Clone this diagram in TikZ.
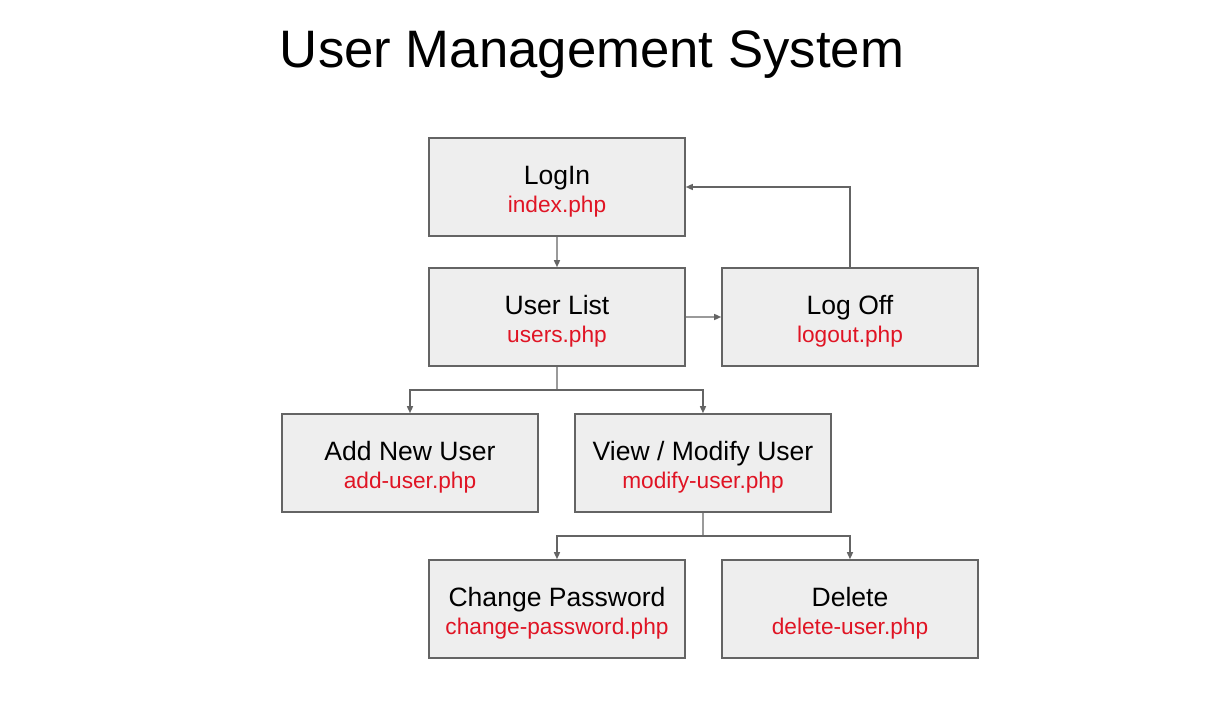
\documentclass[tikz,border=0pt]{standalone}
\usepackage{fontspec}
\setmainfont{Liberation Sans}
\usetikzlibrary{arrows.meta}
\definecolor{boxgray}{RGB}{238,238,238}
\definecolor{linegray}{RGB}{100,100,100}
\definecolor{pagered}{RGB}{224,20,36}
\newcommand{\phpfile}[1]{{\fontsize{12.9}{15.9}\selectfont\color{pagered}#1}}
\newcommand{\tallstrut}{\rule{0pt}{0.56cm}}

\begin{document}
\begin{tikzpicture}[scale=0.2]
\tikzstyle{page}=[draw=linegray, line width=0.9pt, fill=boxgray, minimum width=5.12cm, minimum height=1.96cm, align=center, inner sep=0pt, font=\fontsize{15.1}{15.9}\selectfont]
\tikzstyle{trunk}=[draw=linegray, line width=0.8pt]
\tikzstyle{link}=[trunk, -{Triangle[length=1.4mm,width=1.2mm]}]
\useasboundingbox (0,0) rectangle (121.5,-70.2);
\node (title) [anchor=base, font=\fontsize{30}{36}\selectfont] at (59.2,-6.7) {User Management System};
\node [page] (login) at (55.7,-18.7) {\tallstrut LogIn\\\phpfile{index.php}};
\node [page] (userlist) at (55.7,-31.7) {\tallstrut User List\\\phpfile{users.php}};
\node [page] (logoff) at (85,-31.7) {\tallstrut Log Off\\\phpfile{logout.php}};
\node [page] (adduser) at (41,-46.3) {\tallstrut Add New User\\\phpfile{add-user.php}};
\node [page] (modify) at (70.3,-46.3) {\tallstrut View / Modify User\\\phpfile{modify-user.php}};
\node [page] (password) at (55.7,-60.9) {\tallstrut Change Password\\\phpfile{change-password.php}};
\node [page] (delete) at (85,-60.9) {\tallstrut Delete\\\phpfile{delete-user.php}};
\coordinate (fork1) at (55.7,-39);
\coordinate (fork2) at (70.3,-53.6);
\draw [link] (login) -- (userlist);
\draw [link] (userlist) -- (logoff);
\draw [link] (logoff.north) |- (login.east);
\draw [trunk] (userlist) -- (fork1);
\draw [link] (fork1) -| (adduser);
\draw [link] (fork1) -| (modify);
\draw [trunk] (modify) -- (fork2);
\draw [link] (fork2) -| (password);
\draw [link] (fork2) -| (delete);
\end{tikzpicture}
\end{document}
